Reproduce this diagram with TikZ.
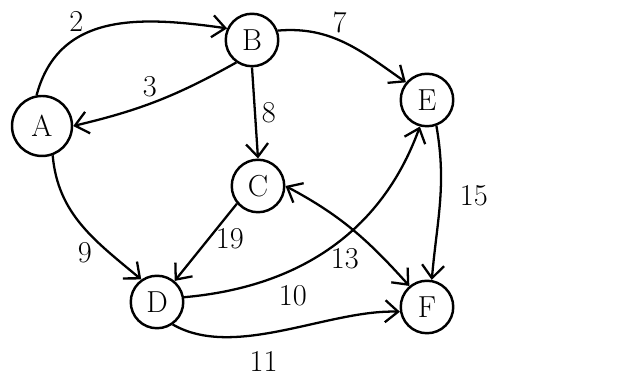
\documentclass[tikz,border=0pt]{standalone}
\usepackage{tikz}
\usetikzlibrary{arrows.meta}

\begin{document}
\begin{tikzpicture}[
    every node/.style={font=\LARGE},
    vertex/.style={draw, circle, line width=1.4pt, minimum size=1.05cm, inner sep=0pt},
    edge/.style={-{Straight Barb[length=2.6mm, width=4.4mm]}, line width=1.3pt},
    weight/.style={font=\LARGE}
]
\useasboundingbox (0,0) rectangle (12.34,7.6);
\node[vertex, minimum size=1.2cm] (A) at (0.84,5.08) {A};
\node[vertex] (B) at (5.04,6.8) {B};
\node[vertex] (C) at (5.16,3.88) {C};
\node[vertex] (E) at (8.54,5.6) {E};
\node[vertex] (D) at (3.14,1.56) {D};
\node[vertex] (F) at (8.54,1.46) {F};
\draw[edge] (A.100) to[out=75, in=172, looseness=1.1] node[weight, above, pos=0.33] (w2) {2} (B.155);
\draw[edge] (B.235) to[bend left=8] node[weight, above, pos=0.55] (w3) {3} (A.east);
\draw[edge] (B.south) -- node[weight, right] (w8) {8} (C.north);
\draw[edge] (B.20) to[out=5, in=145] node[weight, above, pos=0.45] (w7) {7} (E.140);
\draw[edge] (A.290) to[out=275, in=140] node[weight, left=0.2cm, pos=0.75] (w9) {9} (D.125);
\draw[edge] (C.220) -- node[weight, right, pos=0.45] (w19) {19} (D.50);
\draw[edge] (D.10) to[out=5, in=250] node[weight, below right, pos=0.28] (w10) {10} (E.255);
\draw[{Straight Barb[length=2.6mm, width=4.4mm]}-{Straight Barb[length=2.6mm, width=4.4mm]}, line width=1.3pt] (C.east) to[out=-28, in=132] node[weight, below left, pos=0.62] (w13) {13} (F.130);
\draw[edge] (E.290) to[out=280, in=85] node[weight, right=0.25cm, pos=0.45] (w15) {15} (F.80);
\draw[edge] (D.305) to[out=-30, in=178, looseness=0.8] node[weight, below=0.2cm, pos=0.42] (w11) {11} (F.190);
\end{tikzpicture}
\end{document}
